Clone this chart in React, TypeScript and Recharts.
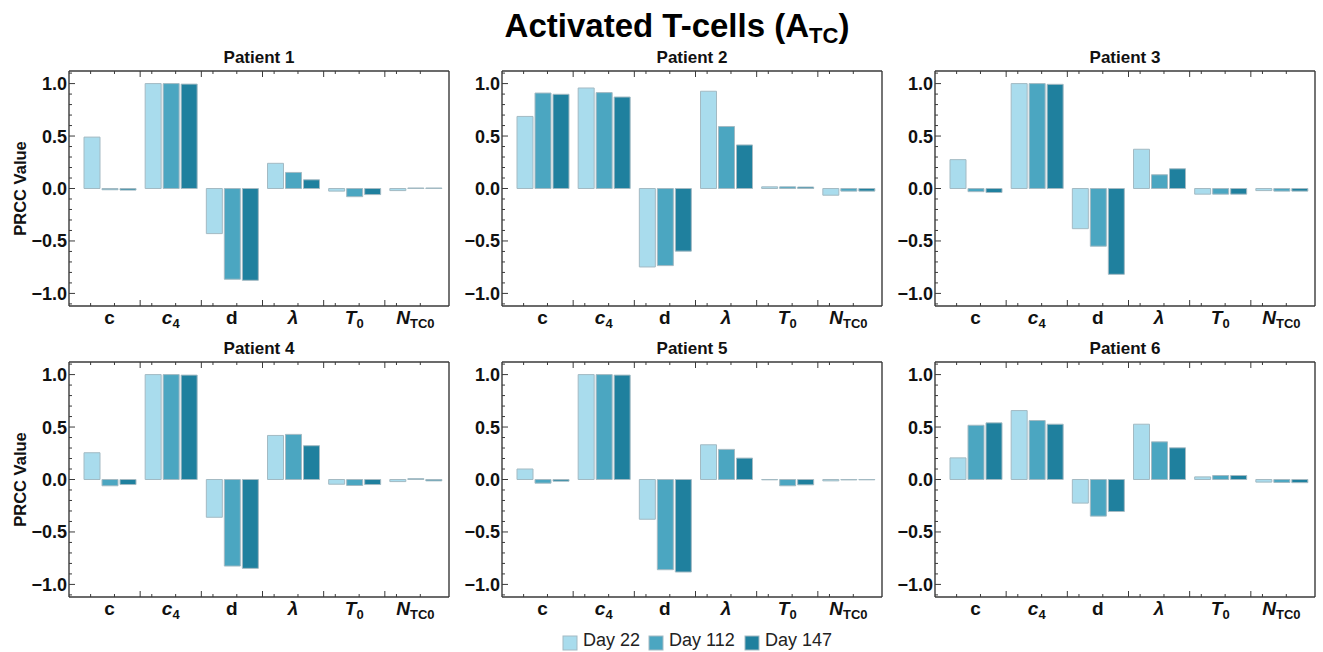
import React from 'react';
import { BarChart, Bar, XAxis, YAxis } from 'recharts';

// parameters on the x axis (key, base glyph, subscript, italic)
const params = ['c', 'c4', 'd', 'lambda', 'T0', 'NTC0'];
const paramBase = ['c', 'c', 'd', 'λ', 'T', 'N'];
const paramSub = ['', '4', '', '', '0', 'TC0'];
const paramItalic = [false, true, false, true, true, true];

const days = ['Day 22', 'Day 112', 'Day 147'];
const dayKeys = ['d22', 'd112', 'd147'];
const dayColors = ['#a9dced', '#4ba6c1', '#1f809e'];

const patients = ['Patient 1', 'Patient 2', 'Patient 3', 'Patient 4', 'Patient 5', 'Patient 6'];

const p1Day22 = [0.49, 1.0, -0.43, 0.24, -0.025, -0.02];
const p1Day112 = [-0.012, 1.0, -0.865, 0.153, -0.078, 0.005];
const p1Day147 = [-0.015, 0.995, -0.875, 0.083, -0.058, 0.005];

const p2Day22 = [0.687, 0.958, -0.748, 0.927, 0.016, -0.064];
const p2Day112 = [0.91, 0.914, -0.735, 0.591, 0.016, -0.025];
const p2Day147 = [0.898, 0.872, -0.597, 0.415, 0.014, -0.025];

const p3Day22 = [0.275, 1.0, -0.383, 0.374, -0.054, -0.02];
const p3Day112 = [-0.03, 1.0, -0.55, 0.131, -0.054, -0.025];
const p3Day147 = [-0.038, 0.993, -0.818, 0.188, -0.054, -0.025];

const p4Day22 = [0.255, 1.0, -0.36, 0.42, -0.045, -0.02];
const p4Day112 = [-0.06, 1.0, -0.825, 0.43, -0.057, 0.008];
const p4Day147 = [-0.048, 0.995, -0.847, 0.322, -0.048, -0.013];

const p5Day22 = [0.1, 1.0, -0.379, 0.331, -0.003, -0.013];
const p5Day112 = [-0.035, 1.0, -0.86, 0.287, -0.06, -0.004];
const p5Day147 = [-0.016, 0.995, -0.882, 0.204, -0.051, -0.003];

const p6Day22 = [0.206, 0.657, -0.225, 0.527, 0.025, -0.025];
const p6Day112 = [0.517, 0.562, -0.349, 0.359, 0.038, -0.028];
const p6Day147 = [0.54, 0.527, -0.305, 0.302, 0.038, -0.03];

const patientSeries = [
  [p1Day22, p1Day112, p1Day147],
  [p2Day22, p2Day112, p2Day147],
  [p3Day22, p3Day112, p3Day147],
  [p4Day22, p4Day112, p4Day147],
  [p5Day22, p5Day112, p5Day147],
  [p6Day22, p6Day112, p6Day147],
];

const yTicks = [-1.1, -1.0, -0.9, -0.8, -0.7, -0.6, -0.5, -0.4, -0.3, -0.2, -0.1, 0,
  0.1, 0.2, 0.3, 0.4, 0.5, 0.6, 0.7, 0.8, 0.9, 1.0, 1.1];
const yDomain = [-1.12, 1.12];
const yLabel = 'PRCC Value';

const FONT = '"Liberation Sans", Arial, Helvetica, sans-serif';
const FRAME = '#3a3a3a';
const BAR_EDGE = '#a3bac3';

const isMajor = (v: number) => Math.abs(v * 2 - Math.round(v * 2)) < 1e-6;
const fmt = (v: number) => (v < -1e-9 ? '\u2212' : '') + Math.abs(v).toFixed(1);

const LeftTick = (props: any) => {
  const { x, y, payload } = props;
  const major = isMajor(payload.value);
  return (
    <g>
      <line x1={x} x2={x + (major ? 6 : 3)} y1={y} y2={y} stroke={FRAME} strokeWidth={1} />
      {major && (
        <text x={x - 2} y={y} dy={6.5} textAnchor="end" fontFamily={FONT} fontWeight="bold" fontSize={18} fill="#111">
          {fmt(payload.value)}
        </text>
      )}
    </g>
  );
};

const RightTick = (props: any) => {
  const { x, y, payload } = props;
  const major = isMajor(payload.value);
  return <line x1={x} x2={x - (major ? 6 : 3)} y1={y} y2={y} stroke={FRAME} strokeWidth={1} />;
};

const frameTicks = (x: number, y: number, half: number, index: number, dir: number) => {
  const left = x - half;
  const w = half * 2;
  return (
    <>
      {index > 0 && <line x1={left} x2={left} y1={y} y2={y + dir * 6} stroke={FRAME} strokeWidth={1} />}
      <line x1={left + w * 0.19} x2={left + w * 0.19} y1={y} y2={y + dir * 3} stroke={FRAME} strokeWidth={1} />
      <line x1={left + w * 0.58} x2={left + w * 0.58} y1={y} y2={y + dir * 3} stroke={FRAME} strokeWidth={1} />
    </>
  );
};

const BottomTick = (props: any) => {
  const { x, y, payload, index } = props;
  const half = payload.offset || 30.6;
  const i = params.indexOf(payload.value);
  return (
    <g>
      {frameTicks(x, y, half, index, -1)}
      <text x={x} y={y + 18} textAnchor="middle" fontFamily={FONT} fontWeight="bold" fontSize={19} fill="#111">
        <tspan fontStyle={paramItalic[i] ? 'italic' : 'normal'}>{paramBase[i]}</tspan>
        {paramSub[i] && (
          <tspan fontSize={13} dy={4}>
            {paramSub[i]}
          </tspan>
        )}
      </text>
    </g>
  );
};

const TopTick = (props: any) => {
  const { x, y, payload, index } = props;
  const half = payload.offset || 30.6;
  return <g>{frameTicks(x, y, half, index, 1)}</g>;
};

const PatientPanel = ({ idx, left, top }: { idx: number; left: number; top: number }) => {
  const series = patientSeries[idx];
  const data = params.map((p, i) => ({
    param: p,
    d22: series[0][i],
    d112: series[1][i],
    d147: series[2][i],
  }));
  const axisLine = { stroke: FRAME, strokeWidth: 1.4 };
  return (
    <div style={{ position: 'absolute', left, top }}>
      <BarChart
        width={445}
        height={295}
        data={data}
        margin={{ top: 29, right: 4, bottom: 0, left: 0 }}
        barSize={16}
        barGap={2}
      >
        <XAxis
          xAxisId="b"
          dataKey="param"
          orientation="bottom"
          height={30}
          padding={{ left: 10, right: 3 }}
          axisLine={axisLine}
          tickLine={false}
          tickSize={0}
          tickMargin={0}
          interval={0}
          tick={(p: any) => <BottomTick {...p} />}
        />
        <XAxis
          xAxisId="t"
          dataKey="param"
          orientation="top"
          height={1}
          padding={{ left: 10, right: 3 }}
          axisLine={axisLine}
          tickLine={false}
          tickSize={0}
          tickMargin={0}
          interval={0}
          tick={(p: any) => <TopTick {...p} />}
        />
        <YAxis
          yAxisId="l"
          width={60}
          domain={yDomain}
          ticks={yTicks}
          interval={0}
          axisLine={axisLine}
          tickLine={false}
          tickSize={0}
          tickMargin={0}
          tick={(p: any) => <LeftTick {...p} />}
        />
        <YAxis
          yAxisId="r"
          orientation="right"
          width={1}
          domain={yDomain}
          ticks={yTicks}
          interval={0}
          axisLine={axisLine}
          tickLine={false}
          tickSize={0}
          tickMargin={0}
          tick={(p: any) => <RightTick {...p} />}
        />
        {dayKeys.map((k, j) => (
          <Bar
            key={k}
            xAxisId="b"
            yAxisId="l"
            dataKey={k}
            name={days[j]}
            fill={dayColors[j]}
            stroke={BAR_EDGE}
            strokeWidth={1}
            isAnimationActive={false}
          />
        ))}
      </BarChart>
    </div>
  );
};

const colLeft = [9, 442, 875];
const rowTop = [41, 332];
const legendX = [563, 649, 745];

export default function App() {
  return (
    <div
      style={{
        position: 'absolute',
        left: 0,
        top: 0,
        width: 1323,
        height: 652,
        background: '#fff',
        overflow: 'hidden',
        fontFamily: FONT,
      }}
    >
      {patients.map((name, i) => (
        <PatientPanel key={name} idx={i} left={colLeft[i % 3]} top={rowTop[Math.floor(i / 3)]} />
      ))}
      <svg
        width={1323}
        height={652}
        style={{ position: 'absolute', left: 0, top: 0, pointerEvents: 'none' }}
      >
        <text x={677} y={37} textAnchor="middle" fontFamily={FONT} fontWeight="bold" fontSize={33} fill="#000">
          Activated T-cells (A
          <tspan fontSize={22} dy={6}>
            TC
          </tspan>
          <tspan dy={-6}>)</tspan>
        </text>
        {rowTop.map((t) => (
          <text
            key={t}
            x={26}
            y={t + 30 + 117.5}
            transform={`rotate(-90 26 ${t + 30 + 117.5})`}
            textAnchor="middle"
            fontFamily={FONT}
            fontWeight="bold"
            fontSize={16.5}
            fill="#111"
          >
            {yLabel}
          </text>
        ))}
        {patients.map((name, i) => (
          <text
            key={name}
            x={colLeft[i % 3] + 60 + 190}
            y={rowTop[Math.floor(i / 3)] + 22}
            textAnchor="middle"
            fontFamily={FONT}
            fontWeight="bold"
            fontSize={17}
            fill="#111"
          >
            {name}
          </text>
        ))}
        {days.map((d, j) => (
          <g key={d}>
            <rect x={legendX[j]} y={636} width={14} height={14} fill={dayColors[j]} stroke={BAR_EDGE} strokeWidth={1} />
            <text x={legendX[j] + 20} y={645} dy={1} fontFamily={FONT} fontSize={18} fill="#222">
              {d}
            </text>
          </g>
        ))}
      </svg>
    </div>
  );
}
